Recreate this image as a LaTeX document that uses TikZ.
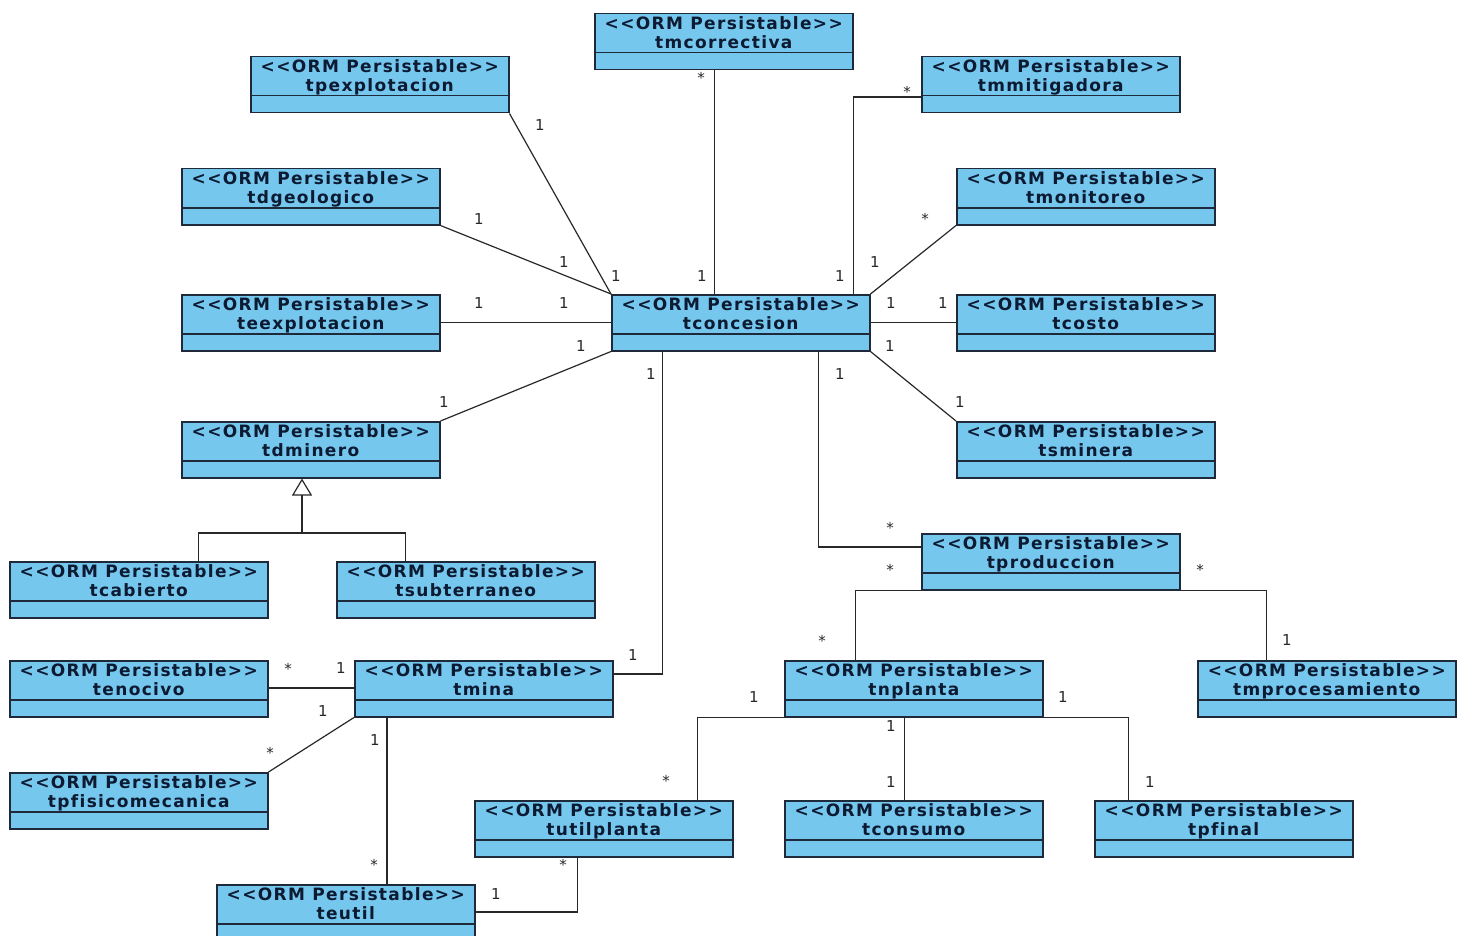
\documentclass[tikz,border=0pt]{standalone}
\usepackage{fontspec}
\setmainfont{DejaVu Sans}
\newfontfamily\clsfont[LetterSpace=8,Ligatures=CommonOff]{DejaVu Sans Bold}
\newfontfamily\lblfont{DejaVu Sans}
\usetikzlibrary{arrows.meta}
\definecolor{clsfill}{RGB}{118,199,238}
\definecolor{clsborder}{RGB}{30,42,58}
\definecolor{clstext}{RGB}{12,26,50}
\definecolor{linec}{RGB}{40,40,40}
\tikzset{
  cls/.style={draw=clsborder, line width=1.5pt, fill=clsfill, minimum width=258pt, minimum height=56pt, inner sep=0pt, anchor=north west,
    path picture={\draw[clsborder, line width=1.5pt] ([yshift=-39pt]path picture bounding box.north west) -- ([yshift=-39pt]path picture bounding box.north east);}},
  clstitle/.style={anchor=north, inner sep=0pt, align=center, text=clstext, font=\clsfont\fontsize{17}{18.5}\selectfont},
  conn/.style={draw=linec, line width=1.2pt},
  mult/.style={inner sep=0pt, text=linec, font=\lblfont\fontsize{15}{15}\selectfont},
}
\newcommand\umlcls[4]{%
  \node[cls] (#1) at (#2,#3) {};
  \node[clstitle] (#1-t) at ([yshift=-3.5pt]#1.north) {<<ORM Persistable>>\\#4};}
\begin{document}
\begin{tikzpicture}[x=1pt,y=-1pt]
\useasboundingbox[fill=white] (0,0) rectangle (1463,936);
% classes
\umlcls{tmc}{594}{13}{tmcorrectiva}
\umlcls{tpe}{250}{56}{tpexplotacion}
\umlcls{tmm}{921}{56}{tmmitigadora}
\umlcls{tdg}{181}{168}{tdgeologico}
\umlcls{tmo}{956}{168}{tmonitoreo}
\umlcls{tee}{181}{294}{teexplotacion}
\umlcls{tcon}{611}{294}{tconcesion}
\umlcls{tco}{956}{294}{tcosto}
\umlcls{tdm}{181}{421}{tdminero}
\umlcls{tsm}{956}{421}{tsminera}
\umlcls{tca}{9}{561}{tcabierto}
\umlcls{tsu}{336}{561}{tsubterraneo}
\umlcls{tpr}{921}{533}{tproduccion}
\umlcls{ten}{9}{660}{tenocivo}
\umlcls{tmi}{354}{660}{tmina}
\umlcls{tnp}{784}{660}{tnplanta}
\umlcls{tmp}{1197}{660}{tmprocesamiento}
\umlcls{tpf}{9}{772}{tpfisicomecanica}
\umlcls{tup}{474}{800}{tutilplanta}
\umlcls{tcs}{784}{800}{tconsumo}
\umlcls{tfi}{1094}{800}{tpfinal}
\umlcls{teu}{216}{884}{teutil}
% connectors around tconcesion
\draw[conn] (tpe.south east) -- (tcon.north west);
\draw[conn] (tdg.south east) -- (tcon.north west);
\draw[conn] (tee.east) -- (tcon.west);
\draw[conn] (tdm.north east) -- (tcon.south west);
\draw[conn] ([xshift=-9pt]tmc.south) -- ([xshift=-9pt]tmc.south |- tcon.north);
\draw[conn] ([yshift=-41pt]tmm.north west) -| ([xshift=-17pt]tcon.north east);
\draw[conn] (tmo.south west) -- (tcon.north east);
\draw[conn] (tcon.east) -- (tco.west);
\draw[conn] (tcon.south east) -- (tsm.north west);
\draw[conn] ([xshift=78pt]tcon.south) |- ([yshift=-14pt]tpr.north west);
\draw[conn] ([xshift=-78pt]tcon.south) |- ([yshift=-14pt]tmi.north east);
% generalization
\coordinate (gj) at (302,533);
\draw[conn] ([xshift=60pt]tca.north) |- (gj) -| ([xshift=-60pt]tsu.north);
\draw[conn, -{Triangle[open, length=17pt, width=20pt, line width=1.2pt]}] (gj) -- (gj |- tdm.south);
% tmina
\draw[conn] ([yshift=-28pt]ten.north east) -- ([yshift=-28pt]tmi.north west);
\draw[conn] (tpf.north east) -- (tmi.south west);
\draw[conn] ([xshift=33pt]tmi.south west) -- ([xshift=33pt]tmi.south west |- teu.north);
\draw[conn] ([yshift=-28pt]teu.north east) -| ([xshift=-26pt]tup.south);
% tproduccion
\draw[conn] (tpr.south west) -| ([xshift=-58pt]tnp.north);
\draw[conn] (tpr.south east) -| ([xshift=-60pt]tmp.north);
% tnplanta
\draw[conn] (tnp.south west) -| ([xshift=94pt]tup.north);
\draw[conn] ([xshift=-9pt]tnp.south) -- ([xshift=-9pt]tnp.south |- tcs.north);
\draw[conn] (tnp.south east) -| ([xshift=-95pt]tfi.north);
% multiplicities
\node[mult] (m1) at (540,125) {1};
\node[mult] (m2) at (616,276) {1};
\node[mult] (m3) at (479,219) {1};
\node[mult] (m4) at (564,262) {1};
\node[mult] (m5) at (479,303) {1};
\node[mult] (m6) at (564,303) {1};
\node[mult] (m7) at (444,402) {1};
\node[mult] (m8) at (581,346) {1};
\node[mult] (m9) at (701,78) {*};
\node[mult] (m10) at (702,276) {1};
\node[mult] (m11) at (907,92) {*};
\node[mult] (m12) at (840,276) {1};
\node[mult] (m13) at (925,219) {*};
\node[mult] (m14) at (875,262) {1};
\node[mult] (m15) at (891,303) {1};
\node[mult] (m16) at (943,303) {1};
\node[mult] (m17) at (890,346) {1};
\node[mult] (m18) at (960,402) {1};
\node[mult] (m19) at (840,374) {1};
\node[mult] (m20) at (890,528) {*};
\node[mult] (m21) at (651,374) {1};
\node[mult] (m22) at (633,655) {1};
\node[mult] (m23) at (288,669) {*};
\node[mult] (m24) at (341,668) {1};
\node[mult] (m25) at (323,711) {1};
\node[mult] (m26) at (270,753) {*};
\node[mult] (m27) at (375,740) {1};
\node[mult] (m28) at (374,865) {*};
\node[mult] (m29) at (496,894) {1};
\node[mult] (m30) at (563,865) {*};
\node[mult] (m31) at (890,570) {*};
\node[mult] (m32) at (822,641) {*};
\node[mult] (m33) at (1200,570) {*};
\node[mult] (m34) at (1287,640) {1};
\node[mult] (m35) at (754,697) {1};
\node[mult] (m36) at (666,781) {*};
\node[mult] (m37) at (891,726) {1};
\node[mult] (m38) at (891,782) {1};
\node[mult] (m39) at (1063,697) {1};
\node[mult] (m40) at (1150,782) {1};
\end{tikzpicture}
\end{document}
